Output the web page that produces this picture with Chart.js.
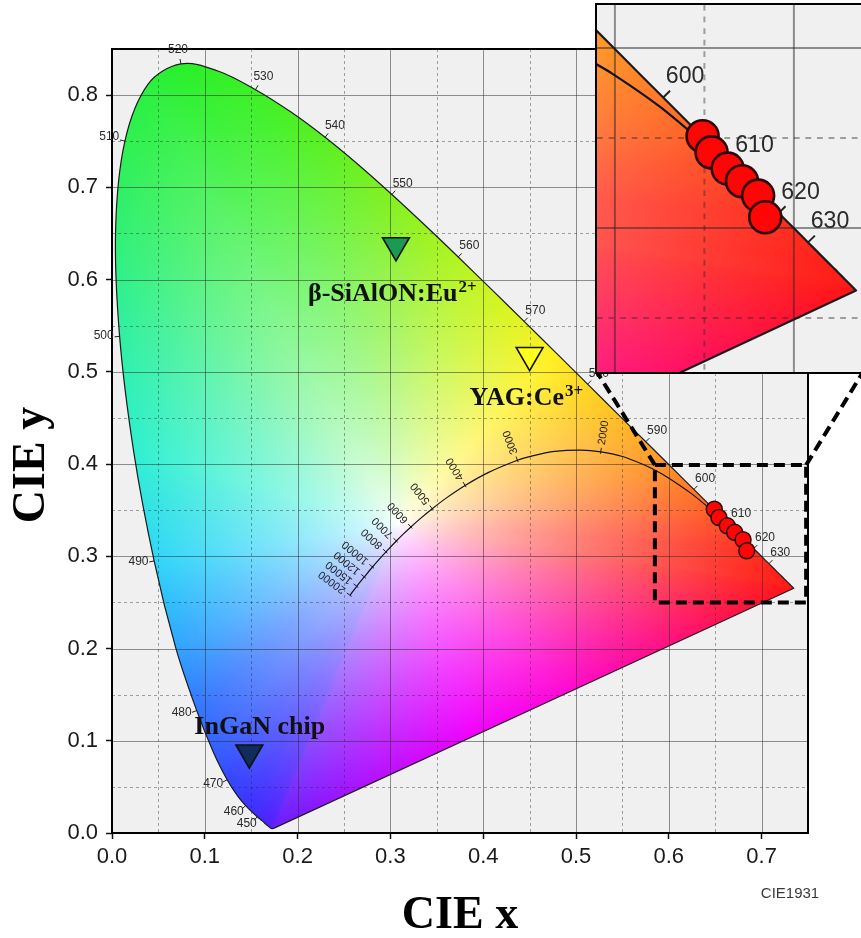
<!DOCTYPE html>
<html>
<head>
<meta charset="utf-8">
<script src="https://cdn.jsdelivr.net/npm/chart.js@4.4.1/dist/chart.umd.min.js"></script>
<style>
  html, body { margin: 0; padding: 0; background: #fff; width: 861px; height: 938px; overflow: hidden; }
  #main { position: absolute; left: 0; top: 0; }
  #zoomBox { position: absolute; left: 595px; top: 3px; width: 266px; height: 367px;
             border: 2px solid #000; background: #f0f0f0; overflow: hidden; }
  #zoom { display: block; }
</style>
</head>
<body>
<canvas id="main" width="861" height="938"></canvas>
<div id="zoomBox"><canvas id="zoom" width="266" height="367"></canvas></div>
<script>
// CIE 1931 2-degree spectral locus, 380-700 nm in 5 nm steps
const wavelengths = [380,385,390,395,400,405,410,415,420,425,430,435,440,445,450,455,460,465,470,475,480,485,490,495,500,505,510,515,520,525,530,535,540,545,550,555,560,565,570,575,580,585,590,595,600,605,610,615,620,625,630,635,640,645,650,655,660,665,670,675,680,685,690,695,700];
const locusX = [0.1741,0.1740,0.1738,0.1736,0.1733,0.1730,0.1726,0.1721,0.1714,0.1703,0.1689,0.1669,0.1644,0.1611,0.1566,0.1510,0.1440,0.1355,0.1241,0.1096,0.0913,0.0687,0.0454,0.0235,0.0082,0.0039,0.0139,0.0389,0.0743,0.1142,0.1547,0.1929,0.2296,0.2658,0.3016,0.3373,0.3731,0.4087,0.4441,0.4788,0.5125,0.5448,0.5752,0.6029,0.6270,0.6482,0.6658,0.6801,0.6915,0.7006,0.7079,0.7140,0.7190,0.7230,0.7260,0.7283,0.7300,0.7311,0.7320,0.7327,0.7334,0.7340,0.7344,0.7346,0.7347];
const locusY = [0.0050,0.0050,0.0049,0.0049,0.0048,0.0048,0.0048,0.0048,0.0051,0.0058,0.0069,0.0086,0.0109,0.0138,0.0177,0.0227,0.0297,0.0399,0.0578,0.0868,0.1327,0.2007,0.2950,0.4127,0.5384,0.6548,0.7502,0.8120,0.8338,0.8262,0.8059,0.7816,0.7543,0.7243,0.6923,0.6589,0.6245,0.5896,0.5547,0.5202,0.4866,0.4544,0.4242,0.3965,0.3725,0.3514,0.3340,0.3197,0.3083,0.2993,0.2920,0.2859,0.2809,0.2770,0.2740,0.2717,0.2700,0.2689,0.2680,0.2673,0.2666,0.2660,0.2656,0.2654,0.2653];
const wavelengthTicks = [450,460,470,480,490,500,510,520,530,540,550,560,570,580,590,600,610,620,630];

// Planckian (blackbody) locus
const cctKelvin = [20000,15000,12000,10000,9000,8000,7000,6500,6000,5500,5000,4500,4000,3500,3000,2800,2500,2200,2000,1800,1600,1500,1400,1200,1000];
const cctX = [0.2565,0.2637,0.2719,0.2807,0.2869,0.2952,0.3064,0.3135,0.3221,0.3325,0.3451,0.3608,0.3805,0.4053,0.4369,0.4520,0.4770,0.5056,0.5267,0.5492,0.5732,0.5857,0.5985,0.6251,0.6528];
const cctY = [0.2577,0.2675,0.2776,0.2884,0.2956,0.3048,0.3166,0.3237,0.3318,0.3411,0.3516,0.3636,0.3768,0.3907,0.4041,0.4086,0.4137,0.4152,0.4133,0.4085,0.3993,0.3931,0.3858,0.3674,0.3444];
const cctTicks = [20000,15000,12000,10000,8000,7000,6000,5000,4000,3000,2000];

// Measured red emitters
const sampleX = [0.649,0.654,0.663,0.671,0.680,0.684];
const sampleY = [0.351,0.342,0.333,0.326,0.318,0.306];

// Reference light sources
const sourceNames = ['β-SiAlON:Eu', 'YAG:Ce', 'InGaN chip'];
const sourceCharge = ['2+', '3+', ''];
const sourceX = [0.306, 0.450, 0.148];
const sourceY = [0.637, 0.518, 0.087];

// Axis ticks and ranges
const xTicks = [0, 0.1, 0.2, 0.3, 0.4, 0.5, 0.6, 0.7];
const yTicks = [0, 0.1, 0.2, 0.3, 0.4, 0.5, 0.6, 0.7, 0.8];
const xRange = [0, 0.75];
const yRange = [0, 0.85];
const zoomXRange = [0.590, 0.7386];
const zoomYRange = [0.220, 0.4239];
const zoomFrameX = [0.585, 0.748];
const zoomFrameY = [0.250, 0.399];

// ---- styling ----
const SANS = '"Liberation Sans", Arial, sans-serif';
const SERIF = '"Liberation Serif", "Times New Roman", serif';
const sourceFill = ['#1b9a52', '#ffff1e', '#0f2c5a'];

// colour field: hue taken from the boundary, saturation grows from the neutral centre
const neutral = [0.31, 0.335];
const rimWl = [380, 440, 460, 470, 480, 485, 490, 495, 500, 505, 510, 520, 530, 540, 550, 560, 570, 575, 580, 590, 600, 610, 620, 640, 700];
const rimWlColor = ['#6a1cff','#4a22ff','#3a32ff','#3448ff','#3474ff','#30a4ff','#30d6f8','#30f0d0','#30f0a2','#30f074','#2ef052','#28f028','#3cf024','#5af020','#82f020','#b2f420','#e4f420','#fff020','#ffd820','#ffa828','#ff7828','#ff4c24','#ff3020','#ff2018','#ff1414'];
const rimPurpleU = [0, 0.2, 0.45, 0.62, 0.82, 1];
const rimPurpleColor = ['#ff1414','#ff1070','#ff08d8','#f000ff','#b010ff','#6a1cff'];

const hex = h => [parseInt(h.slice(1, 3), 16), parseInt(h.slice(3, 5), 16), parseInt(h.slice(5, 7), 16)];
const lerp3 = (a, b, t) => [a[0] + (b[0] - a[0]) * t, a[1] + (b[1] - a[1]) * t, a[2] + (b[2] - a[2]) * t];
function paletteAt(keys, cols, v) {
  if (v <= keys[0]) return hex(cols[0]);
  for (let i = 1; i < keys.length; i++) {
    if (v <= keys[i]) return lerp3(hex(cols[i - 1]), hex(cols[i]), (v - keys[i - 1]) / (keys[i] - keys[i - 1]));
  }
  return hex(cols[cols.length - 1]);
}

// distance from the neutral point to the gamut rim, and the rim colour, per direction
const RIM_BINS = 4096;
const rim = (() => {
  const dist = new Float64Array(RIM_BINS), col = [];
  const n = locusX.length;
  for (let b = 0; b < RIM_BINS; b++) {
    const th = -Math.PI + (b + 0.5) / RIM_BINS * 2 * Math.PI;
    const dx = Math.cos(th), dy = Math.sin(th);
    let best = Infinity, bestCol = [255, 255, 255];
    for (let i = 0; i < n; i++) {
      const j = (i + 1) % n;
      const ex = locusX[j] - locusX[i], ey = locusY[j] - locusY[i];
      const wx = locusX[i] - neutral[0], wy = locusY[i] - neutral[1];
      const den = dx * ey - dy * ex;
      if (Math.abs(den) < 1e-12) continue;
      const t = (wx * ey - wy * ex) / den;
      const u = (wx * dy - wy * dx) / den;
      if (t > 0 && u >= 0 && u <= 1 && t < best) {
        best = t;
        if (j === 0) bestCol = paletteAt(rimPurpleU, rimPurpleColor, u);
        else bestCol = paletteAt(rimWl, rimWlColor, wavelengths[i] + 5 * u);
      }
    }
    dist[b] = best; col.push(bestCol);
  }
  return { dist, col };
})();

function fieldColor(x, y) {
  const dx = x - neutral[0], dy = y - neutral[1];
  const th = Math.atan2(dy, dx);
  let b = Math.floor((th + Math.PI) / (2 * Math.PI) * RIM_BINS);
  if (b >= RIM_BINS) b = RIM_BINS - 1;
  const s = Math.min(1, Math.hypot(dx, dy) / rim.dist[b]);
  const t = Math.pow(s, 0.72);
  const c = rim.col[b];
  return [255 + (c[0] - 255) * t, 255 + (c[1] - 255) * t, 255 + (c[2] - 255) * t];
}

function normalAt(xs, ys, i, sx, sy) {
  const i0 = Math.max(0, i - 1), i1 = Math.min(xs.length - 1, i + 1);
  const tx = sx.getPixelForValue(xs[i1]) - sx.getPixelForValue(xs[i0]);
  const ty = sy.getPixelForValue(ys[i1]) - sy.getPixelForValue(ys[i0]);
  const L = Math.hypot(tx, ty) || 1;
  return [ty / L, -tx / L];
}

const LOCUS_INDEX = 5;

const cieLayers = {
  id: 'cieLayers',
  beforeDatasetsDraw(chart, args, o) {
    const { ctx, chartArea: a } = chart;
    const sx = chart.scales.x, sy = chart.scales.y;
    const k = o.k;
    ctx.save();
    ctx.fillStyle = '#f0f0f0';
    ctx.fillRect(a.left, a.top, a.right - a.left, a.bottom - a.top);

    // colour field clipped to the spectral locus outline
    const w = Math.ceil(a.right - a.left), h = Math.ceil(a.bottom - a.top);
    const off = document.createElement('canvas');
    off.width = w; off.height = h;
    const octx = off.getContext('2d');
    const img = octx.createImageData(w, h);
    const xv = new Float64Array(w), yv = new Float64Array(h);
    for (let i = 0; i < w; i++) xv[i] = sx.getValueForPixel(a.left + i + 0.5);
    for (let j = 0; j < h; j++) yv[j] = sy.getValueForPixel(a.top + j + 0.5);
    let p = 0;
    for (let j = 0; j < h; j++) {
      for (let i = 0; i < w; i++) {
        const c = fieldColor(xv[i], yv[j]);
        img.data[p++] = c[0]; img.data[p++] = c[1]; img.data[p++] = c[2]; img.data[p++] = 255;
      }
    }
    octx.putImageData(img, 0, 0);
    ctx.save();
    ctx.beginPath();
    ctx.rect(a.left, a.top, a.right - a.left, a.bottom - a.top);
    ctx.clip();
    ctx.beginPath();
    chart.getDatasetMeta(LOCUS_INDEX).dataset.path(ctx);
    ctx.closePath();
    ctx.clip();
    ctx.drawImage(off, a.left, a.top);
    ctx.restore();

    // grid: solid every 0.1, dashed in between
    ctx.save();
    ctx.beginPath();
    ctx.rect(a.left, a.top, a.right - a.left, a.bottom - a.top);
    ctx.clip();
    const gridLines = (scale, horizontal) => {
      const start = Math.ceil(scale.min / 0.05 - 1e-6);
      const end = Math.floor(scale.max / 0.05 + 1e-6);
      for (let n = start; n <= end; n++) {
        const major = n % 2 === 0;
        const raw = scale.getPixelForValue(n * 0.05);
        const pos = k > 1 ? raw : Math.round(raw) + 0.5;
        ctx.lineWidth = k > 1 ? 2 : 1;
        ctx.strokeStyle = major ? 'rgba(40,40,40,0.5)' : 'rgba(40,40,40,0.42)';
        ctx.setLineDash(major ? [] : [3 * k, 3 * k]);
        ctx.beginPath();
        if (horizontal) { ctx.moveTo(a.left, pos); ctx.lineTo(a.right, pos); }
        else { ctx.moveTo(pos, a.top); ctx.lineTo(pos, a.bottom); }
        ctx.stroke();
      }
    };
    gridLines(sx, false);
    gridLines(sy, true);
    ctx.restore();

    if (o.frame) {
      ctx.lineWidth = 2;
      ctx.strokeStyle = '#000';
      ctx.setLineDash([]);
      ctx.strokeRect(a.left, a.top, a.right - a.left, a.bottom - a.top);
    }

    // wavelength ticks and labels along the spectral locus
    ctx.fillStyle = '#2a2a2a';
    ctx.strokeStyle = '#222';
    ctx.setLineDash([]);
    ctx.lineWidth = 1 * k;
    ctx.font = (12 * k) + 'px ' + SANS;
    ctx.textAlign = 'center';
    ctx.textBaseline = 'middle';
    wavelengthTicks.forEach(wl => {
      const i = wavelengths.indexOf(wl);
      const px = sx.getPixelForValue(locusX[i]), py = sy.getPixelForValue(locusY[i]);
      const n = normalAt(locusX, locusY, i, sx, sy);
      ctx.beginPath();
      ctx.moveTo(px, py);
      ctx.lineTo(px + n[0] * 5 * k, py + n[1] * 5 * k);
      ctx.stroke();
      const txt = String(wl);
      const tw = ctx.measureText(txt).width;
      const th = 9 * k;
      const d = 8 * k;
      ctx.fillText(txt, px + n[0] * (d + 0.8 * tw / 2), py + n[1] * (d + th / 2) - 2 * k);
    });

    // colour temperature ticks and labels along the Planckian locus
    ctx.font = (11 * k) + 'px ' + SANS;
    ctx.fillStyle = '#1e1e1e';
    ctx.textAlign = 'left';
    cctTicks.forEach(T => {
      const i = cctKelvin.indexOf(T);
      const px = sx.getPixelForValue(cctX[i]), py = sy.getPixelForValue(cctY[i]);
      const n = normalAt(cctX, cctY, i, sx, sy);
      ctx.beginPath();
      ctx.moveTo(px - n[0] * 2 * k, py - n[1] * 2 * k);
      ctx.lineTo(px + n[0] * 4 * k, py + n[1] * 4 * k);
      ctx.stroke();
      ctx.save();
      ctx.translate(px + n[0] * 7 * k, py + n[1] * 7 * k);
      ctx.rotate(Math.atan2(n[1], n[0]));
      ctx.fillText(String(T), 0, 0);
      ctx.restore();
    });
    ctx.restore();
  },
  afterDatasetsDraw(chart, args, o) {
    if (!o.frame) return;
    const { ctx } = chart;
    const sx = chart.scales.x, sy = chart.scales.y;
    ctx.save();
    // source names beside their markers
    const offsets = [[-88, 56], [-60, 50], [-55, -19]];
    ctx.fillStyle = '#111';
    ctx.textBaseline = 'alphabetic';
    ctx.textAlign = 'left';
    sourceNames.forEach((name, i) => {
      const px = sx.getPixelForValue(sourceX[i]) + offsets[i][0];
      const py = sy.getPixelForValue(sourceY[i]) + offsets[i][1];
      ctx.font = 'bold 26px ' + SERIF;
      ctx.fillText(name, px, py);
      if (sourceCharge[i]) {
        const w = ctx.measureText(name).width;
        ctx.font = 'bold 17px ' + SERIF;
        ctx.fillText(sourceCharge[i], px + w + 1, py - 9);
      }
    });

    // frame of the magnified region and its leader lines
    const fx0 = sx.getPixelForValue(zoomFrameX[0]), fx1 = sx.getPixelForValue(zoomFrameX[1]);
    const fy0 = sy.getPixelForValue(zoomFrameY[1]), fy1 = sy.getPixelForValue(zoomFrameY[0]);
    ctx.strokeStyle = '#000';
    ctx.lineWidth = 4;
    ctx.setLineDash([11, 6]);
    ctx.strokeRect(fx0, fy0, fx1 - fx0, fy1 - fy0);
    const r = document.getElementById('zoomBox').getBoundingClientRect();
    ctx.beginPath();
    ctx.moveTo(fx0, fy0); ctx.lineTo(r.left + 2, r.bottom - 2);
    ctx.moveTo(fx1, fy0); ctx.lineTo(r.right - 2, r.bottom - 2);
    ctx.stroke();
    ctx.restore();
  },
  afterDraw(chart, args, o) {
    if (!o.frame) return;
    const { ctx, chartArea: a } = chart;
    ctx.save();
    ctx.fillStyle = '#000';
    ctx.font = 'bold 46px ' + SERIF;
    ctx.textAlign = 'center';
    ctx.textBaseline = 'alphabetic';
    ctx.fillText('CIE x', (a.left + a.right) / 2, 928);
    ctx.save();
    ctx.translate(44, 465);
    ctx.rotate(-Math.PI / 2);
    ctx.fillText('CIE y', 0, 0);
    ctx.restore();
    ctx.fillStyle = '#3a3a3a';
    ctx.font = '15px ' + SANS;
    ctx.fillText('CIE1931', 790, 898);
    ctx.restore();
  }
};

function buildDatasets(s) {
  const sets = [];
  sets.push({
    data: sampleX.map((x, i) => ({ x, y: sampleY[i] })),
    showLine: false, pointRadius: s.dot, pointStyle: 'circle',
    pointBackgroundColor: '#ff0505', pointBorderColor: '#2a0606', pointBorderWidth: s.dotBorder
  });
  sourceNames.forEach((name, i) => {
    sets.push({
      data: [{ x: sourceX[i], y: sourceY[i] }],
      showLine: false, pointStyle: 'triangle', rotation: 180, pointRadius: s.tri,
      pointBackgroundColor: sourceFill[i], pointBorderColor: '#111', pointBorderWidth: 1.6
    });
  });
  sets.push({
    data: cctX.map((x, i) => ({ x, y: cctY[i] })),
    showLine: true, borderColor: '#141414', borderWidth: s.line, pointRadius: 0, tension: 0.3, fill: false
  });
  const loop = locusX.map((x, i) => ({ x, y: locusY[i] }));
  loop.push({ x: locusX[0], y: locusY[0] });
  sets.push({
    data: loop,
    showLine: true, borderColor: '#1c1c1c', borderWidth: s.line, pointRadius: 0, tension: 0.35, fill: false
  });
  return sets;
}

const tickAxis = (values, size) => ({
  afterBuildTicks: sc => { sc.ticks = values.map(v => ({ value: v })); },
  ticks: { autoSkip: false, maxRotation: 0, color: '#1a1a1a',
           font: { family: SANS, size: size }, callback: v => Number(v).toFixed(1) },
  grid: { drawOnChartArea: false, drawTicks: true, tickLength: 6, tickColor: '#111', tickWidth: 1.5 },
  border: { display: false }
});

const xAxis = tickAxis(xTicks, 22);
xAxis.ticks.padding = 5;
const yAxis = tickAxis(yTicks, 22);
yAxis.ticks.padding = 8;

// main diagram
new Chart(document.getElementById('main'), {
  type: 'scatter',
  data: { datasets: buildDatasets({ dot: 8, dotBorder: 1.5, tri: 15.5, line: 1.2 }) },
  plugins: [cieLayers],
  options: {
    responsive: false, animation: false, events: [],
    layout: { autoPadding: false, padding: { left: 0, top: 49, right: 53, bottom: 0 } },
    plugins: { legend: { display: false }, tooltip: { enabled: false }, cieLayers: { k: 1, frame: true } },
    scales: {
      x: Object.assign({ type: 'linear', min: xRange[0], max: xRange[1],
                         afterFit: sc => { sc.height = 105; } }, xAxis),
      y: Object.assign({ type: 'linear', min: yRange[0], max: yRange[1],
                         afterFit: sc => { sc.width = 112; } }, yAxis)
    }
  }
});

// magnified red corner
new Chart(document.getElementById('zoom'), {
  type: 'scatter',
  data: { datasets: buildDatasets({ dot: 16, dotBorder: 2.6, tri: 30, line: 2.2 }) },
  plugins: [cieLayers],
  options: {
    responsive: false, animation: false, events: [],
    layout: { autoPadding: false, padding: 0 },
    plugins: { legend: { display: false }, tooltip: { enabled: false }, cieLayers: { k: 1.93, frame: false } },
    scales: {
      x: { type: 'linear', display: false, min: zoomXRange[0], max: zoomXRange[1] },
      y: { type: 'linear', display: false, min: zoomYRange[0], max: zoomYRange[1] }
    }
  }
});
</script>
</body>
</html>
